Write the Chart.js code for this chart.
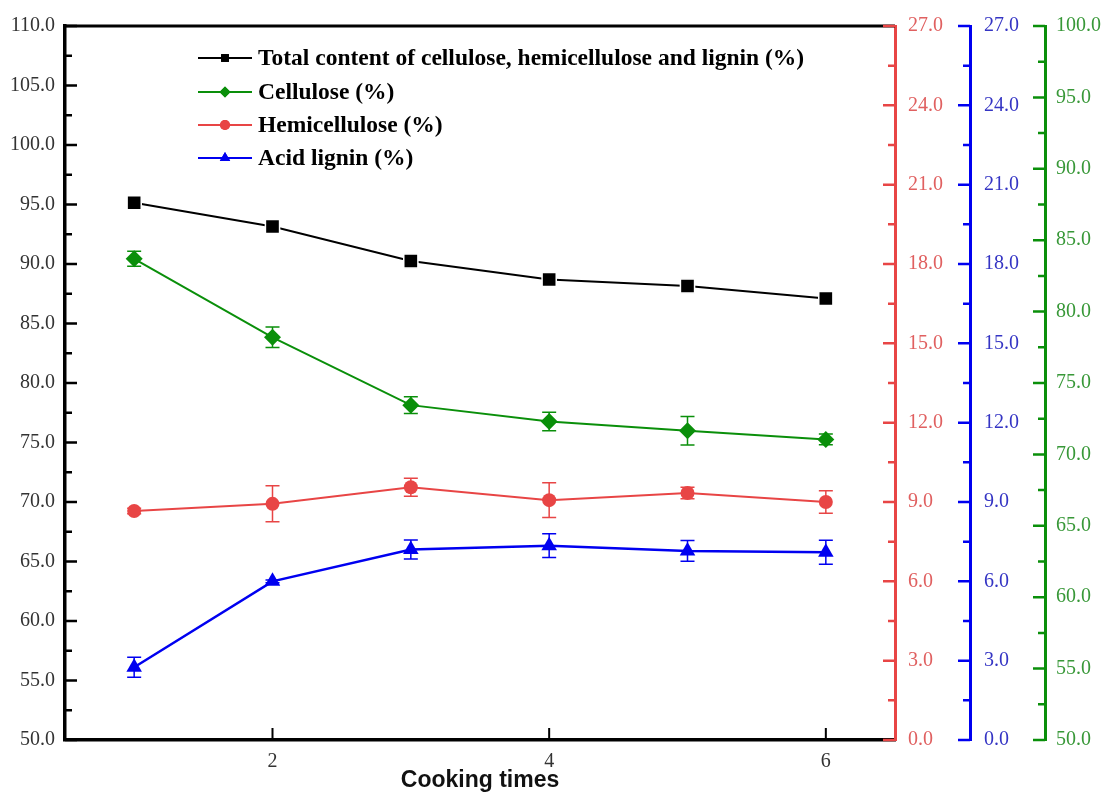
<!DOCTYPE html>
<html lang="en">
<head>
<meta charset="UTF-8">
<title>Cooking times</title>
<script src="https://cdn.jsdelivr.net/npm/chart.js"></script>
<style>
  html, body { margin: 0; padding: 0; background: #fff; }
  #wrap { width: 1102px; height: 794px; }
</style>
</head>
<body>
<div id="wrap"><canvas id="chart"></canvas></div>
<script>
// x values and the labelled ticks
const cookingTimes = [1, 2, 3, 4, 5, 6];
const xTickValues = [2, 4, 6];

// series
const totalContent = [95.15, 93.15, 90.25, 88.7, 88.15, 87.1];
const cellulose = [83.7, 78.2, 73.45, 72.3, 71.65, 71.05];
const celluloseErr = [0.52, 0.72, 0.58, 0.65, 1.0, 0.38];
const hemicellulose = [8.66, 8.93, 9.56, 9.07, 9.34, 9.0];
const hemicelluloseErr = [0.1, 0.68, 0.34, 0.66, 0.22, 0.43];
const acidLignin = [2.75, 6.0, 7.2, 7.35, 7.15, 7.1];
const acidLigninErr = [0.38, 0.05, 0.36, 0.45, 0.39, 0.45];

const legendLabels = [
  'Total content of cellulose, hemicellulose and lignin (%)',
  'Cellulose (%)',
  'Hemicellulose (%)',
  'Acid lignin (%)'
];

const SERIF = '"Liberation Serif", "Times New Roman", serif';

function xy(values) {
  return values.map((v, i) => ({ x: cookingTimes[i], y: v }));
}

// inward tick marks, top frame, error bars and the in-plot legend
const decor = {
  id: 'decor',
  beforeDatasetsDraw(chart) {
    const ctx = chart.ctx;
    ctx.save();
    chart.data.datasets.forEach((ds, i) => {
      if (!ds.errors) return;
      const meta = chart.getDatasetMeta(i);
      const scale = chart.scales[ds.yAxisID];
      ctx.strokeStyle = ds.borderColor;
      ctx.lineWidth = 1.5;
      meta.data.forEach((pt, j) => {
        const v = ds.data[j].y, e = ds.errors[j];
        const top = scale.getPixelForValue(v + e);
        const bot = scale.getPixelForValue(v - e);
        ctx.beginPath();
        ctx.moveTo(pt.x, top); ctx.lineTo(pt.x, bot);
        ctx.moveTo(pt.x - 7, top); ctx.lineTo(pt.x + 7, top);
        ctx.moveTo(pt.x - 7, bot); ctx.lineTo(pt.x + 7, bot);
        ctx.stroke();
      });
    });
    ctx.restore();
  },
  afterDraw(chart) {
    const ctx = chart.ctx;
    const area = chart.chartArea;
    ctx.save();

    ctx.strokeStyle = '#000';
    ctx.lineWidth = 3;
    ctx.beginPath();
    ctx.moveTo(area.left, area.top);
    ctx.lineTo(area.right, area.top);
    ctx.stroke();

    const axes = [
      { id: 'y', color: '#000', dir: 1 },
      { id: 'yRed', color: '#e84545', dir: -1 },
      { id: 'yBlue', color: '#0000f0', dir: -1 },
      { id: 'yGreen', color: '#0a8f0a', dir: -1 }
    ];
    axes.forEach(a => {
      const s = chart.scales[a.id];
      const edge = a.dir > 0 ? s.right : s.left;
      const vals = s.ticks.map(t => t.value);
      ctx.strokeStyle = a.color;
      ctx.lineWidth = 2.5;
      ctx.beginPath();
      vals.forEach((v, k) => {
        const py = s.getPixelForValue(v);
        ctx.moveTo(edge, py); ctx.lineTo(edge + a.dir * 12, py);
        if (k < vals.length - 1) {
          const my = s.getPixelForValue((v + vals[k + 1]) / 2);
          ctx.moveTo(edge, my); ctx.lineTo(edge + a.dir * 7, my);
        }
      });
      ctx.stroke();
    });

    const xs = chart.scales.x;
    ctx.strokeStyle = '#000';
    ctx.lineWidth = 2;
    ctx.beginPath();
    xTickValues.forEach(v => {
      const px = xs.getPixelForValue(v);
      ctx.moveTo(px, area.bottom); ctx.lineTo(px, area.bottom - 12);
    });
    ctx.stroke();

    // legend
    const rowY = [58, 92, 125, 158];
    const legendRadius = [5.5, 5.5, 5, 6];
    chart.data.datasets.forEach((ds, i) => {
      const y = rowY[i];
      ctx.strokeStyle = ds.borderColor;
      ctx.lineWidth = 2;
      ctx.beginPath();
      ctx.moveTo(198, y); ctx.lineTo(252, y);
      ctx.stroke();
      ctx.fillStyle = ds.borderColor;
      ctx.strokeStyle = ds.borderColor;
      Chart.helpers.drawPoint(ctx, {
        pointStyle: ds.pointStyle,
        radius: legendRadius[i],
        borderWidth: 0,
        rotation: 0
      }, 225, y);
      ctx.fill();
      ctx.fillStyle = '#000';
      ctx.font = 'bold 23.5px ' + SERIF;
      ctx.textAlign = 'left';
      ctx.textBaseline = 'middle';
      ctx.fillText(legendLabels[i], 258, y + 1);
    });

    ctx.restore();
  }
};

function yAxis(pos, min, max, step, labelColor, lineColor, lineWidth, width, pad, weight) {
  return {
    type: 'linear',
    position: pos,
    weight: weight,
    min: min,
    max: max,
    grid: { display: false, drawTicks: false },
    border: { display: true, color: lineColor, width: lineWidth },
    ticks: {
      stepSize: step,
      autoSkip: false,
      padding: pad,
      color: labelColor,
      font: { family: SERIF, size: 20 },
      callback: v => v.toFixed(1)
    },
    afterFit: s => { s.width = width; }
  };
}

new Chart(document.getElementById('chart'), {
  type: 'line',
  data: {
    datasets: [
      {
        label: legendLabels[0],
        data: xy(totalContent),
        yAxisID: 'y',
        borderColor: '#000000',
        backgroundColor: '#000000',
        borderWidth: 2,
        pointStyle: 'rect',
        pointRadius: 10,
        pointBorderColor: '#ffffff',
        pointBorderWidth: 1.5
      },
      {
        label: legendLabels[1],
        data: xy(cellulose),
        errors: celluloseErr,
        yAxisID: 'yGreen',
        borderColor: '#0a8f0a',
        backgroundColor: '#0a8f0a',
        borderWidth: 2,
        pointStyle: 'rectRot',
        pointRadius: 8.5,
        pointBorderWidth: 0
      },
      {
        label: legendLabels[2],
        data: xy(hemicellulose),
        errors: hemicelluloseErr,
        yAxisID: 'yRed',
        borderColor: '#e84545',
        backgroundColor: '#e84545',
        borderWidth: 2,
        pointStyle: 'circle',
        pointRadius: 7,
        pointBorderWidth: 0
      },
      {
        label: legendLabels[3],
        data: xy(acidLignin),
        errors: acidLigninErr,
        yAxisID: 'yBlue',
        borderColor: '#0000f0',
        backgroundColor: '#0000f0',
        borderWidth: 2.5,
        pointStyle: 'triangle',
        pointRadius: 9,
        pointBorderWidth: 0
      }
    ]
  },
  options: {
    responsive: true,
    maintainAspectRatio: false,
    animation: false,
    devicePixelRatio: 1,
    layout: { padding: { top: 20, left: 0, right: 0, bottom: 0 } },
    plugins: {
      legend: { display: false },
      tooltip: { enabled: false }
    },
    scales: {
      x: {
        type: 'linear',
        position: 'bottom',
        min: 0.5,
        max: 6.5,
        afterBuildTicks: s => { s.ticks = xTickValues.map(v => ({ value: v })); },
        grid: { display: false, drawTicks: false },
        border: { display: true, color: '#000', width: 3.5 },
        ticks: {
          autoSkip: false,
          maxRotation: 0,
          padding: 10,
          color: '#333',
          font: { family: SERIF, size: 20 },
          callback: v => String(v)
        },
        title: {
          display: true,
          text: 'Cooking times',
          color: '#111',
          font: { family: '"Liberation Sans", Arial, sans-serif', size: 23, weight: 'bold' },
          padding: { top: 0, bottom: 0 }
        },
        afterFit: s => { s.height = 54; }
      },
      y: yAxis('left', 50, 110, 5, '#333', '#000', 3.5, 65, 10, 0),
      yRed: yAxis('right', 0, 27, 3, '#e06060', '#e84545', 3, 75, 13, 1),
      yBlue: yAxis('right', 0, 27, 3, '#3535c4', '#0000f0', 3, 75, 14, 2),
      yGreen: yAxis('right', 50, 100, 5, '#389838', '#0a8f0a', 3, 57, 11, 3)
    }
  },
  plugins: [decor]
});
</script>
</body>
</html>
